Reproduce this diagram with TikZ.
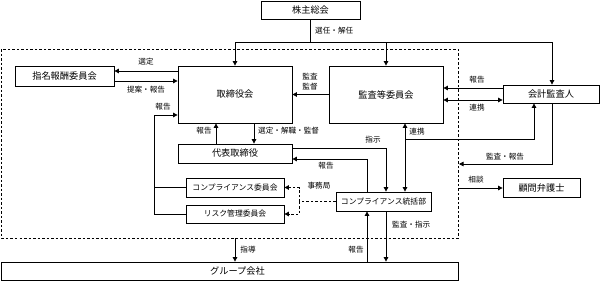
\documentclass[tikz,border=0pt]{standalone}
\usepackage{fontspec}
\setmainfont{Noto Sans CJK JP}
\usetikzlibrary{arrows.meta}
\tikzset{
  box/.style={draw, line width=0.8pt, inner sep=0pt, font=\fontsize{9.2}{10}\selectfont},
  sbox/.style={box, font=\fontsize{7.8}{9}\selectfont},
  lab/.style={inner sep=0pt, font=\fontsize{7.6}{8}\selectfont},
  ln/.style={line width=0.8pt},
  arr/.style={ln, -{Triangle[length=4.5pt,width=4.5pt]}},
  arrs/.style={ln, {Triangle[length=4.5pt,width=4.5pt]}-{Triangle[length=4.5pt,width=4.5pt]}},
  dsh/.style={line width=0.9pt, dash pattern=on 2.5pt off 2pt},
}
\begin{document}
\begin{tikzpicture}[x=1pt,y=-1pt]
\useasboundingbox (0,0) rectangle (602,281);
% dashed frame
\draw[dsh] (1.5,49) rectangle (458,238);
% boxes
\node[box, minimum width=99pt, minimum height=18pt] (sh) at (310.5,10) {株主総会};
\node[box, minimum width=99pt, minimum height=20pt] (nom) at (64.5,76) {指名報酬委員会};
\node[box, minimum width=114pt, minimum height=57pt] (bod) at (235,94.5) {取締役会};
\node[box, minimum width=114pt, minimum height=57pt] (aud) at (386,94.5) {監査等委員会};
\node[box, minimum width=96pt, minimum height=18pt] (acc) at (551,94) {会計監査人};
\node[box, minimum width=114pt, minimum height=19pt] (rep) at (235,153.5) {代表取締役};
\node[sbox, minimum width=98pt, minimum height=19pt] (cc) at (235,187.5) {コンプライアンス委員会};
\node[sbox, minimum width=98pt, minimum height=18pt] (rc) at (235,214) {リスク管理委員会};
\node[sbox, minimum width=95pt, minimum height=19pt] (cd) at (383.5,201.5) {コンプライアンス統括部};
\node[box, minimum width=77pt, minimum height=19pt] (law) at (541.5,187.5) {顧問弁護士};
\node[box, minimum width=457pt, minimum height=18pt] (grp) at (229.5,271) {\hspace*{16pt}グループ会社};
% coordinates
\coordinate (jl) at (235,42);
\coordinate (jr) at (552,42);
\coordinate (lx) at (154,115);
\coordinate (k) at (405,139);
\coordinate (k2) at (534,139);
\coordinate (m) at (552,164);
\coordinate (m2) at (459,164);
\coordinate (s) at (458,188);
\coordinate (d) at (299,201.5);
\coordinate (g) at (235,238);
\coordinate (na) at ([yshift=5pt]nom.east);
\coordinate (nb) at ([yshift=-5pt]nom.east);
\coordinate (aa) at ([yshift=6pt]acc.west);
\coordinate (ab) at ([yshift=-6pt]acc.west);
% shareholders
\draw[ln] (sh.south) -- (sh.south |- jl);
\draw[ln] (jl) -- (jr);
\draw[arr] (jl) -- (bod.north);
\draw[arr] (aud.north |- jl) -- (aud.north);
\draw[arr] (jr) -- (jr |- acc.north);
\node[lab, anchor=west] at (315,31) {選任・解任};
% nomination committee
\draw[arr] (bod.west |- na) -- (na);
\draw[arr] (nb) -- (bod.west |- nb);
\node[lab] at (146,62) {選定};
\node[lab] at (146,90) {提案・報告};
% committees report
\draw[arr] (rc.west) -- (rc.west -| lx) -- (lx) -- (lx -| bod.west);
\draw[ln] (cc.west) -- (cc.west -| lx);
\node[lab] at (163,107) {報告};
% audit -> board
\draw[arr] (aud.west) -- (bod.east);
\node[lab] at (310,77) {監査};
\node[lab] at (310,87) {監督};
% accountant <-> audit
\draw[arr] (aa) -- (aud.east |- aa);
\draw[arrs] (aud.east |- ab) -- (ab);
\node[lab] at (477,80) {報告};
\node[lab] at (477,108) {連携};
% board <-> representative
\draw[arr] ([xshift=-19pt]rep.north) -- ([xshift=-19pt]bod.south);
\draw[arr] ([xshift=19pt]bod.south) -- ([xshift=19pt]rep.north);
\node[lab] at (204,131) {報告};
\node[lab, anchor=west] at (258,131) {選定・解職・監督};
% representative <-> compliance dept
\draw[arr] ([yshift=5.5pt]rep.east) -| (cd.north -| aud);
\draw[arr] ([xshift=-16.5pt]cd.north) |- ([yshift=-5.5pt]rep.east);
\node[lab] at (373,140) {指示};
\node[lab] at (326,166) {報告};
% audit <-> compliance dept
\draw[arrs] (aud.south -| k) -- (cd.north -| k);
\draw[arr] (k) -- (k2) -- (k2 |- acc.south);
\node[lab] at (417,132) {連携};
% accountant audit/report
\draw[arr] (m |- acc.south) -- (m) -- (m2);
\node[lab] at (505,157) {監査・報告};
% lawyer
\draw[arr] (s) -- (law.west |- s);
\node[lab] at (476,180) {相談};
% secretariat
\draw[dsh] (cd.west) -- (d);
\draw[dsh, -{Triangle[length=4.5pt,width=4.5pt]}] (d) |- (cc.east);
\draw[dsh, -{Triangle[length=4.5pt,width=4.5pt]}] (d) |- (rc.east);
\node[lab] at (319,186) {事務局};
% group companies
\draw[arr] (cd.south -| aud) -- (grp.north -| aud);
\draw[arr] ([xshift=-16.5pt]cd.south |- grp.north) -- ([xshift=-16.5pt]cd.south);
\node[lab, anchor=west] at (392,225) {監査・指示};
\node[lab] at (356,250) {報告};
\draw[arr] (g) -- (grp.north -| g);
\node[lab] at (248,250) {指導};
\end{tikzpicture}
\end{document}
